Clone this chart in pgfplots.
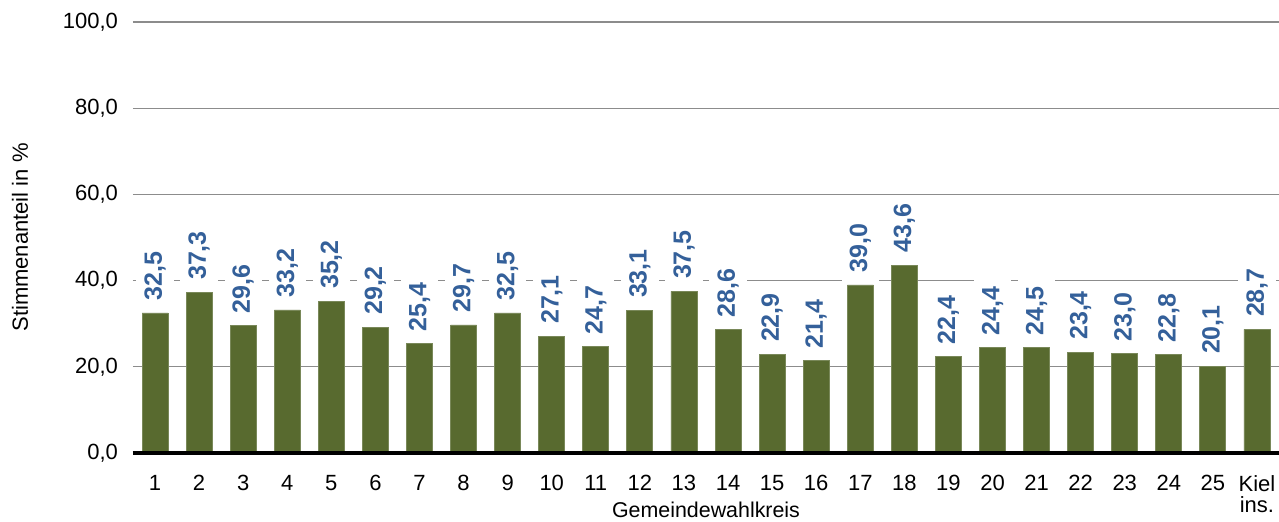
\documentclass[border=0pt]{standalone}
\usepackage{pgfplots}
\pgfplotsset{compat=1.18}
\usetikzlibrary{calc}
\usepackage{fontspec}
\setmainfont{Liberation Sans}
\definecolor{bargreen}{HTML}{586A2F}
\definecolor{lblblue}{HTML}{34609A}
\definecolor{gridgray}{HTML}{8C8C8C}

\pgfplotstableread{
x val
0 32.5
1 37.3
2 29.6
3 33.2
4 35.2
5 29.2
6 25.4
7 29.7
8 32.5
9 27.1
10 24.7
11 33.1
12 37.5
13 28.6
14 22.9
15 21.4
16 39.0
17 43.6
18 22.4
19 24.4
20 24.5
21 23.4
22 23.0
23 22.8
24 20.1
25 28.7
}\datatable

\begin{document}
\begin{tikzpicture}
\begin{axis}[
    name=ax,
    scale only axis,
    width=573pt, height=215.5pt,
    xmin=-0.5, xmax=25.5,
    ymin=0, ymax=100,
    ytick={0,20,40,60,80,100},
    xtick={0,...,25},
    xticklabels={1,2,3,4,5,6,7,8,9,10,11,12,13,14,15,16,17,18,19,20,21,22,23,24,25,{Kiel\\ins.}},
    xticklabel style={align=center, font=\fontsize{11}{10.5}\selectfont, anchor=north, yshift=-7.5pt},
    yticklabel style={font=\fontsize{11}{12}\selectfont, xshift=-4pt},
    /pgf/number format/assume math mode=true,
    /pgf/number format/.cd, fixed, fixed zerofill, precision=1, use comma, /pgfplots/.cd,
    axis x line*=bottom,
    axis y line*=left,
    y axis line style={draw=none},
    x axis line style={line width=2pt, black, -},
    major tick length=0pt,
    ymajorgrids=true,
    grid style={gridgray, line width=0.6pt},
    xlabel={Gemeindewahlkreis},
    xlabel style={font=\fontsize{10.7}{12}\selectfont, at={(axis description cs:0.5,0)}, anchor=base, yshift=-32.3pt},
    ylabel={Stimmenanteil in \%},
    ylabel style={font=\fontsize{11}{12}\selectfont, yshift=10.5pt},
    clip=false,
]
\addplot[
    ybar, bar width=13pt, draw=bargreen!80!white, line width=0.4pt, fill=bargreen,
    nodes near coords={\pgfmathprintnumber[fixed, fixed zerofill, precision=1, use comma]{\pgfplotspointmeta}},
    nodes near coords style={rotate=90, anchor=west, fill=white, text=lblblue,
        font=\fontsize{12.5}{13.5}\selectfont\bfseries, inner xsep=4pt, inner ysep=4pt, xshift=2pt},
] table[x=x, y=val] {\datatable};
\draw[line width=2pt, black] (axis cs:-0.5,0) -- (axis cs:25.5,0);
\end{axis}
\pgfresetboundingbox
\path[use as bounding box] ($(ax.south west)+(-66.5pt,-34pt)$) rectangle ($(ax.north east)+(0pt,11pt)$);
\end{tikzpicture}
\end{document}
